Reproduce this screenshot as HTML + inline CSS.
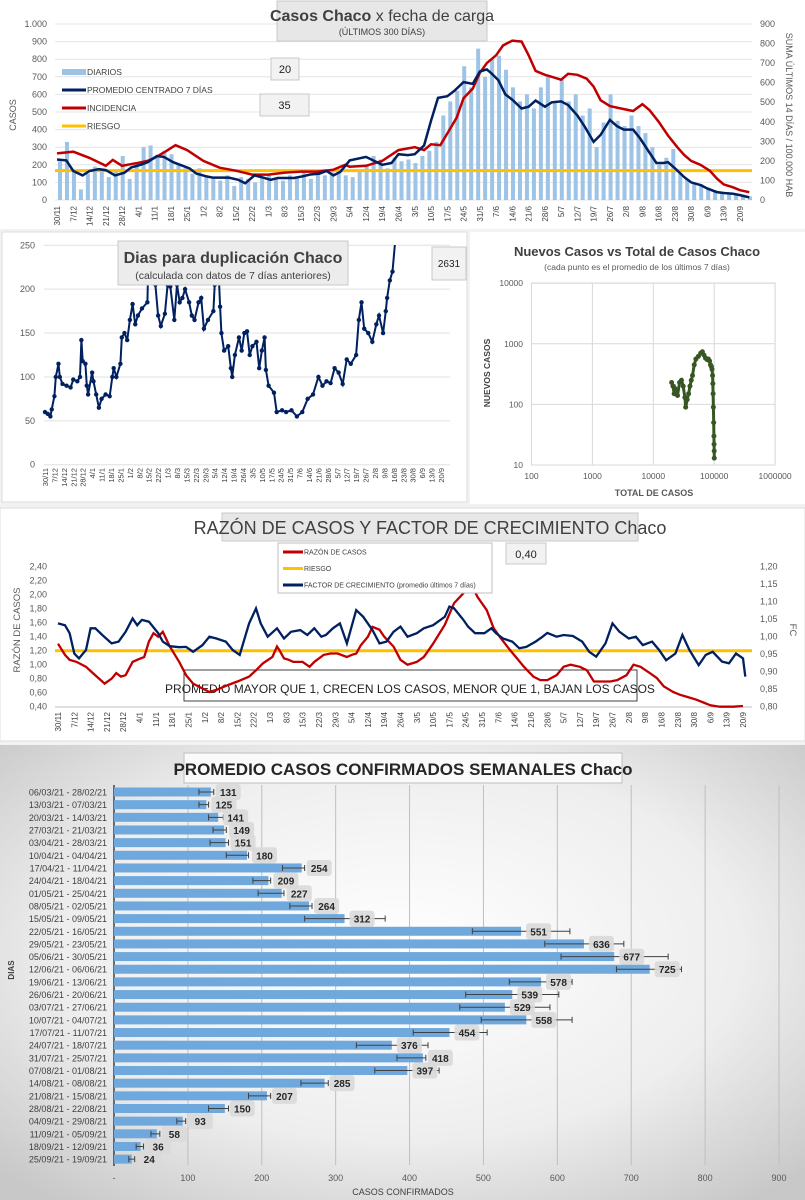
<!DOCTYPE html>
<html><head><meta charset="utf-8">
<style>
body{margin:0;background:#fff;}
svg{display:block;font-family:"Liberation Sans",sans-serif;}
.n{font-family:"Liberation Sans Narrow","Liberation Sans",sans-serif;}
</style></head>
<body>
<svg id="s" width="805" height="1200" viewBox="0 0 805 1200" xmlns="http://www.w3.org/2000/svg">
<defs>
<radialGradient id="bg4" cx="50%" cy="45%" r="70%">
<stop offset="0" stop-color="#ffffff"/><stop offset="0.6" stop-color="#eeeeee"/><stop offset="1" stop-color="#c8c8c8"/>
</radialGradient>
</defs>
<rect x="0" y="0" width="805" height="1200" fill="#f2f2f2"/>
<rect x="0" y="0" width="805" height="229" fill="#fff"/>
<rect x="2" y="232" width="465" height="270" fill="#fff" stroke="#ddd"/>
<rect x="470" y="232" width="335" height="272" fill="#fff"/>
<rect x="0" y="508" width="805" height="233" fill="#fff" stroke="#ddd"/>
<rect x="0" y="745" width="805" height="455" fill="url(#bg4)"/>
<g id="g1"></g><g id="g2"></g><g id="g3"></g><g id="g4"></g><g id="g5"></g>
</svg>
<script>
// ---------- shared date ticks ----------
const dateTicks=["30/11","7/12","14/12","21/12","28/12","4/1","11/1","18/1","25/1","1/2","8/2","15/2","22/2","1/3","8/3","15/3","22/3","29/3","5/4","12/4","19/4","26/4","3/5","10/5","17/5","24/5","31/5","7/6","14/6","21/6","28/6","5/7","12/7","19/7","26/7","2/8","9/8","16/8","23/8","30/8","6/9","13/9","20/9"];
// ---------- chart 1 data ----------
const dailyVals=[220,330,170,60,150,190,170,130,160,250,120,210,300,310,250,280,260,200,180,150,180,140,120,110,140,80,130,120,100,130,150,120,110,140,130,160,120,150,140,170,160,140,130,170,200,250,230,180,240,220,230,210,250,280,330,480,560,620,760,640,860,700,800,820,740,640,560,600,520,640,700,560,690,560,600,480,520,300,440,600,450,420,480,420,380,300,200,240,290,150,120,100,90,70,55,45,40,35,30,20];
const avgDays=[0,4,7,11,14,18,21,25,29,32,36,39,43,46,50,53,57,60,64,67,71,74,78,81,85,88,92,95,99,102,106,109,113,116,119,122,126,133,140,144,147,151,154,158,161,164,168,171,175,179,182,185,187,190,193,196,200,203,206,210,213,217,220,224,227,231,234,238,241,244,248,251,255,258,261,263,266,270,273,277,280,284,287,291,294,298];
const avgVals=[230,225,165,140,165,175,170,140,155,185,200,215,250,245,215,200,180,150,135,127,127,127,115,95,140,130,115,125,125,125,135,145,150,165,140,160,225,245,200,210,260,255,260,310,450,580,590,620,670,660,730,742,720,680,600,570,520,530,565,530,555,560,540,480,420,330,370,455,420,400,400,350,270,210,210,215,180,130,100,85,65,45,40,35,28,15];
const incDays=[0,7,14,21,24,28,35,39,42,47,51,56,63,70,77,84,91,98,105,112,119,124,126,133,140,147,154,158,161,165,168,172,175,179,182,185,189,192,196,200,203,206,210,213,217,220,224,228,231,234,238,242,248,252,255,259,263,267,270,273,277,281,284,287,291,294,298];
const incVals=[238,247,215,175,205,175,190,200,215,250,280,255,200,165,150,130,130,140,145,145,155,180,170,175,200,255,270,255,285,280,340,420,520,570,650,700,740,790,815,810,740,660,640,630,615,645,640,620,580,510,480,470,455,490,460,400,330,270,230,200,180,150,110,80,65,50,40,35];
const riesgo1=150;
const yTicksL1=[0,100,200,300,400,500,600,700,800,900,1000];
const yTickLab1=["0","100","200","300","400","500","600","700","800","900","1.000"];
const yTicksR1=[0,100,200,300,400,500,600,700,800,900];
// ---------- chart 2 data ----------
const dupDays=[0,2,4,5,7,8,10,11,13,16,19,21,24,26,27,28,30,31,32,35,36,38,40,42,45,48,50,51,53,56,57,59,61,63,65,67,69,72,76,77,80,82,84,86,89,91,93,96,98,100,102,104,107,109,111,114,116,118,121,125,126,129,130,131,133,136,138,139,141,144,146,148,150,152,154,157,159,161,163,164,166,170,172,176,179,183,187,191,195,199,203,206,209,212,215,218,221,224,227,231,233,235,237,240,243,246,248,251,253,254,256,258,260];
const dupVals=[60,58,55,63,78,100,115,100,92,90,88,97,95,100,142,118,115,90,80,105,95,80,65,75,80,78,100,110,100,115,145,150,142,165,183,160,170,178,185,250,240,205,170,158,172,205,203,165,205,185,190,200,185,170,165,185,190,155,165,175,205,215,180,150,130,135,110,100,125,145,130,150,152,125,135,140,110,130,145,108,90,82,60,62,60,62,55,60,75,80,100,90,95,93,110,105,92,120,115,125,165,185,155,150,140,160,170,150,175,190,210,220,255];
const dupTicks=[0,50,100,150,200,250];
// ---------- chart 3 data (scatter) ----------
const totalCasos=[20000,21000,22000,23000,25000,27000,29000,31000,33000,34000,36000,38000,40000,42000,44000,47000,50000,55000,60000,64000,68000,72000,76000,80000,84000,87000,90000,92000,94000,95000,96000,97000,98000,99000,99500,100000,100300];
const nuevosCasos=[230,200,150,180,140,230,250,200,130,90,120,150,200,250,300,450,560,620,700,740,650,580,550,560,520,450,420,380,300,220,150,90,50,30,22,17,13];
// ---------- chart 4 data ----------
const razDays=[0,3,5,8,12,15,18,20,23,25,27,29,32,34,37,39,41,43,45,48,52,55,58,62,65,68,73,77,82,85,88,92,94,95,97,99,101,105,108,110,114,117,120,124,126,128,130,133,135,138,140,144,147,150,154,157,161,166,170,174,176,178,180,184,187,190,194,197,200,204,207,210,214,217,220,224,227,230,234,237,240,244,247,250,254,257,260,264,267,270,274,277,280,284,290,294];
const razVals=[1.30,1.14,1.07,1.04,0.97,0.88,0.79,0.73,0.80,0.88,0.83,0.85,1.04,1.07,1.11,1.33,1.45,1.40,1.47,1.26,1.04,0.85,0.73,0.66,0.61,0.64,0.71,0.76,0.83,0.92,1.02,1.11,1.26,1.21,1.09,1.07,1.04,1.04,0.97,1.04,1.14,1.16,1.16,1.11,1.14,1.16,1.28,1.40,1.54,1.50,1.40,1.26,1.07,1.00,1.04,1.11,1.30,1.57,1.88,2.02,2.26,2.11,1.97,1.78,1.52,1.38,1.21,1.09,0.97,0.83,0.78,0.78,0.85,0.97,1.00,0.97,0.92,0.76,0.76,0.76,0.78,0.85,1.00,0.97,0.88,0.81,0.69,0.61,0.57,0.54,0.50,0.46,0.42,0.40,0.40,0.41];
const fcDays=[0,3,5,7,9,12,14,16,19,23,26,29,32,34,36,39,43,45,48,52,55,58,62,65,68,72,75,78,82,85,87,90,94,97,100,104,107,110,113,115,118,121,124,128,131,135,138,141,144,147,150,154,157,161,166,168,170,174,176,179,183,186,188,191,195,198,201,205,208,210,214,217,221,225,228,231,235,238,241,245,248,251,255,258,261,265,268,271,275,278,281,285,288,291,294,295];
const fcVals=[1.038,1.033,1.010,0.952,0.938,0.962,1.024,1.024,1.005,0.981,0.986,1.014,1.052,1.033,1.048,1.043,1.010,0.986,0.973,0.970,0.971,0.957,0.976,1.000,0.995,0.986,0.962,0.948,1.038,1.081,1.038,1.000,1.024,0.995,1.014,1.019,1.005,1.024,1.000,1.005,1.024,1.038,0.981,1.076,1.057,1.019,0.981,0.986,1.014,1.029,1.000,1.010,1.024,1.033,1.057,1.086,1.081,1.048,1.029,1.010,1.010,1.024,1.010,0.995,0.986,0.967,0.971,0.986,1.000,1.011,1.000,1.005,1.002,0.986,0.957,0.943,0.981,1.038,1.014,0.995,1.000,0.976,0.986,0.962,0.933,0.952,1.005,0.962,0.919,0.948,0.957,0.929,0.924,0.952,0.938,0.886];
const riesgo3=1.20;
const razTicks=[0.4,0.6,0.8,1.0,1.2,1.4,1.6,1.8,2.0,2.2,2.4];
const fcTicks=[0.80,0.85,0.90,0.95,1.00,1.05,1.10,1.15,1.20];
// ---------- chart 5 data ----------
const semanas=["06/03/21 - 28/02/21","13/03/21 - 07/03/21","20/03/21 - 14/03/21","27/03/21 - 21/03/21","03/04/21 - 28/03/21","10/04/21 - 04/04/21","17/04/21 - 11/04/21","24/04/21 - 18/04/21","01/05/21 - 25/04/21","08/05/21 - 02/05/21","15/05/21 - 09/05/21","22/05/21 - 16/05/21","29/05/21 - 23/05/21","05/06/21 - 30/05/21","12/06/21 - 06/06/21","19/06/21 - 13/06/21","26/06/21 - 20/06/21","03/07/21 - 27/06/21","10/07/21 - 04/07/21","17/07/21 - 11/07/21","24/07/21 - 18/07/21","31/07/21 - 25/07/21","07/08/21 - 01/08/21","14/08/21 - 08/08/21","21/08/21 - 15/08/21","28/08/21 - 22/08/21","04/09/21 - 29/08/21","11/09/21 - 05/09/21","18/09/21 - 12/09/21","25/09/21 - 19/09/21"];
const semVals=[131,125,141,149,151,180,254,209,227,264,312,551,636,677,725,578,539,529,558,454,376,418,397,285,207,150,93,58,36,24];
const errLow=[115,115,128,134,130,152,228,188,195,238,258,485,583,605,680,535,476,468,497,405,328,383,353,253,182,128,85,50,30,20];
const errHigh=[135,128,148,152,155,182,258,212,230,268,367,617,690,750,768,620,602,590,620,505,425,422,440,290,212,155,97,62,40,28];
const semTicks=[0,100,200,300,400,500,600,700,800,900];

// ---------- helpers ----------
const NS="http://www.w3.org/2000/svg";
function mk(parent,tag,attrs,txt){const e=document.createElementNS(NS,tag);for(const k in attrs)e.setAttribute(k,attrs[k]);if(txt!==undefined)e.textContent=txt;parent.appendChild(e);return e;}
function pts(xs,ys,fx,fy){return xs.map((d,i)=>fx(d).toFixed(1)+","+fy(ys[i]).toFixed(1)).join(" ");}
function dateLabels(g,fx,y0,size){dateTicks.forEach((t,i)=>{const x=fx(i*7);const e=mk(g,"text",{x:x+3,y:y0,transform:`rotate(-90 ${x+3} ${y0})`,"text-anchor":"end","font-size":size,fill:"#404040"},t);

});}

// ---------- chart 1 ----------
(function(){const g=document.getElementById("g1");
const x=d=>57+d*683/294, yL=v=>200-v*0.176, yR=v=>200-v*0.1956;
yTicksL1.forEach((v,i)=>{const l=mk(g,"line",{x1:55,x2:752,y1:yL(v),y2:yL(v),stroke:"#e4e4e4","stroke-width":1});


const t=mk(g,"text",{x:47,y:yL(v)+3,"text-anchor":"end","font-size":9,fill:"#595959"},yTickLab1[i]);

});
yTicksR1.forEach(v=>{const t=mk(g,"text",{x:760,y:yR(v)+3,"font-size":9,fill:"#595959"},String(v));

});
dailyVals.forEach((v,i)=>{const b=mk(g,"rect",{x:x(i*3)+1,y:yL(v),width:4,height:200-yL(v),fill:"#9dc3e6"});

});
const rl=mk(g,"line",{x1:55,x2:752,y1:yR(riesgo1),y2:yR(riesgo1),stroke:"#ffc000","stroke-width":3});


const ri=mk(g,"polyline",{points:pts(incDays,incVals,x,yR),fill:"none",stroke:"#c00000","stroke-width":2.5});


const av=mk(g,"polyline",{points:pts(avgDays,avgVals,x,yL),fill:"none",stroke:"#002060","stroke-width":2.5});


dateLabels(g,x,206,8);
const yt=mk(g,"text",{x:16,y:115,transform:"rotate(-90 16 115)","text-anchor":"middle","font-size":9,fill:"#595959"},"CASOS");


const rt=mk(g,"text",{x:786,y:115,transform:"rotate(90 786 115)","text-anchor":"middle","font-size":9,fill:"#595959"},"SUMA  ÚLTIMOS 14 DÍAS / 100.000 HAB");


const tb=mk(g,"rect",{x:277,y:1,width:210,height:40,fill:"#e7e7e7",stroke:"#c8c8c8"});


const tt=mk(g,"text",{x:382,y:21,"text-anchor":"middle","font-size":16,fill:"#404040"});


mk(tt,"tspan",{"font-weight":"bold"},"Casos Chaco");mk(tt,"tspan",{}," x fecha de carga");
const st=mk(g,"text",{x:382,y:35,"text-anchor":"middle","font-size":9,fill:"#404040"},"(ÚLTIMOS 300 DÍAS)");


const leg=[["DIARIOS","#9cc2e5",6],["PROMEDIO CENTRADO 7 DÍAS","#002060",3],["INCIDENCIA","#c00000",3],["RIESGO","#ffc000",3]];
leg.forEach((l,i)=>{const yy=72+i*18;const s=mk(g,"rect",{x:62,y:yy-l[2]/2,width:24,height:l[2],fill:l[1]});


const t=mk(g,"text",{x:87,y:yy+3,"font-size":8.5,fill:"#404040"},l[0]);

});
[[271,58,28,"20"],[260,94,49,"35"]].forEach(b=>{const r=mk(g,"rect",{x:b[0],y:b[1],width:b[2],height:22,fill:"#f2f2f2",stroke:"#c8c8c8"});


const t=mk(g,"text",{x:b[0]+b[2]/2,y:b[1]+15,"text-anchor":"middle","font-size":11,fill:"#222"},b[3]);

});
})();

// ---------- chart 2 ----------
(function(){const g=document.getElementById("g2");
const x=d=>45+d*396/294, y=v=>464.7-v*0.8776;
dupTicks.forEach(v=>{const l=mk(g,"line",{x1:44,x2:450,y1:y(v),y2:y(v),stroke:"#e0e0e0"});


const t=mk(g,"text",{x:35,y:y(v)+3,"text-anchor":"end","font-size":9,fill:"#595959"},String(v));

});
mk(g,"clipPath",{id:"c2"});mk(document.getElementById("c2"),"rect",{x:40,y:245,width:420,height:225});
const pl=mk(g,"polyline",{points:pts(dupDays,dupVals,x,y),fill:"none",stroke:"#002060","stroke-width":2,"clip-path":"url(#c2)"});


dupDays.forEach((d,i)=>{if(dupVals[i]>250)return;const c=mk(g,"circle",{cx:x(d),cy:y(dupVals[i]),r:2.2,fill:"#002060"});

});
dateLabels(g,x,468,7.5);
const tb=mk(g,"rect",{x:118,y:241,width:230,height:44,fill:"#ececec",stroke:"#c8c8c8"});


const t1=mk(g,"text",{x:233,y:263,"text-anchor":"middle","font-size":16,"font-weight":"bold",fill:"#404040"},"Dias para duplicación Chaco");


const t2=mk(g,"text",{x:233,y:279,"text-anchor":"middle","font-size":10.5,fill:"#404040"},"(calculada con datos de 7 días anteriores)");


const vb=mk(g,"rect",{x:432,y:247,width:34,height:33,fill:"#f2f2f2",stroke:"#c8c8c8"});


const vt=mk(g,"text",{x:449,y:267,"text-anchor":"middle","font-size":10,fill:"#222"},"2631");


})();

// ---------- chart 3 scatter ----------
(function(){const g=document.getElementById("g3");
const x=v=>531.5+(Math.log10(v)-2)*60.9, y=v=>465-(Math.log10(v)-1)*60.6;
const fr=mk(g,"rect",{x:531.5,y:283,width:243.6,height:182,fill:"none",stroke:"#d9d9d9"});


[100,1000,10000,100000,1000000].forEach(v=>{const l=mk(g,"line",{x1:x(v),x2:x(v),y1:283,y2:465,stroke:"#d9d9d9"});


const t=mk(g,"text",{x:x(v),y:479,"text-anchor":"middle","font-size":8.5,fill:"#595959"},String(v));

});
[10,100,1000,10000].forEach(v=>{const l=mk(g,"line",{x1:531.5,x2:775,y1:y(v),y2:y(v),stroke:"#d9d9d9"});


const t=mk(g,"text",{x:523,y:y(v)+3,"text-anchor":"end","font-size":8.5,fill:"#595959"},String(v));

});
const pl=mk(g,"polyline",{points:pts(totalCasos,nuevosCasos,x,y),fill:"none",stroke:"#375623","stroke-width":3});


totalCasos.forEach((v,i)=>{const c=mk(g,"circle",{cx:x(v),cy:y(nuevosCasos[i]),r:2.5,fill:"#375623"});

});
const t1=mk(g,"text",{x:637,y:256,"text-anchor":"middle","font-size":13,"font-weight":"bold",fill:"#404040"},"Nuevos Casos vs Total de Casos Chaco");


const t2=mk(g,"text",{x:637,y:270,"text-anchor":"middle","font-size":8.5,fill:"#595959"},"(cada punto es el promedio de los últimos 7 días)");


const yt=mk(g,"text",{x:490,y:373,transform:"rotate(-90 490 373)","text-anchor":"middle","font-size":8.5,"font-weight":"bold",fill:"#404040"},"NUEVOS  CASOS");


const xt=mk(g,"text",{x:654,y:496,"text-anchor":"middle","font-size":9,"font-weight":"bold",fill:"#595959"},"TOTAL DE CASOS");


})();

// ---------- chart 4 ----------
(function(){const g=document.getElementById("g4");
const x=d=>58+d*685/294, yL=v=>706.7-(v-0.4)*70, yR=v=>706.7-(v-0.8)*350;
razTicks.forEach(v=>{const t=mk(g,"text",{x:47,y:yL(v)+3,"text-anchor":"end","font-size":9,fill:"#595959"},v.toFixed(2).replace(".",","));

});
fcTicks.forEach(v=>{const t=mk(g,"text",{x:760,y:yR(v)+3,"font-size":9,fill:"#595959"},v.toFixed(2).replace(".",","));

});
const ax=mk(g,"line",{x1:55,x2:752,y1:707,y2:707,stroke:"#bfbfbf"});


const nb=mk(g,"rect",{x:184,y:670,width:453,height:31,fill:"#fff",stroke:"#404040"});


const nt=mk(g,"text",{x:410,y:693,"text-anchor":"middle","font-size":12,fill:"#222"},"PROMEDIO MAYOR QUE 1, CRECEN LOS CASOS, MENOR QUE 1, BAJAN LOS CASOS");


const rl=mk(g,"line",{x1:55,x2:752,y1:yL(riesgo3),y2:yL(riesgo3),stroke:"#ffc000","stroke-width":3});


const rz=mk(g,"polyline",{points:pts(razDays,razVals,x,yL),fill:"none",stroke:"#c00000","stroke-width":2.3});


const fc=mk(g,"polyline",{points:pts(fcDays,fcVals,x,yR),fill:"none",stroke:"#002060","stroke-width":2.3});


dateLabels(g,x,712,8);
const tb=mk(g,"rect",{x:222,y:513,width:416,height:28,fill:"#e7e7e7",stroke:"#c8c8c8"});


const tt=mk(g,"text",{x:430,y:534,"text-anchor":"middle","font-size":18,fill:"#404040"},"RAZÓN DE CASOS Y FACTOR DE CRECIMIENTO Chaco");


const lb=mk(g,"rect",{x:278,y:543,width:214,height:50,fill:"#fff",stroke:"#bfbfbf"});


[["RAZÓN DE CASOS","#c00000"],["RIESGO","#ffc000"],["FACTOR DE CRECIMIENTO (promedio últimos 7 días)","#002060"]].forEach((l,i)=>{const yy=552+i*16.5;
const s=mk(g,"rect",{x:283,y:yy-1.5,width:20,height:3,fill:l[1]});


const t=mk(g,"text",{x:304,y:yy+2.5,"font-size":7,fill:"#404040"},l[0]);

});
const vb=mk(g,"rect",{x:506,y:543,width:40,height:21,fill:"#f2f2f2",stroke:"#c8c8c8"});


const vt=mk(g,"text",{x:526,y:558,"text-anchor":"middle","font-size":11,fill:"#222"},"0,40");


const y1=mk(g,"text",{x:20,y:630,transform:"rotate(-90 20 630)","text-anchor":"middle","font-size":9.5,fill:"#595959"},"RAZÓN  DE  CASOS");


const y2=mk(g,"text",{x:790,y:630,transform:"rotate(90 790 630)","text-anchor":"middle","font-size":9.5,fill:"#595959"},"FC");


})();

// ---------- chart 5 ----------
(function(){const g=document.getElementById("g5");
const x=v=>114+v*665/900, y=i=>792+i*12.66;
semTicks.forEach(v=>{if(v>0){const l=mk(g,"line",{x1:x(v),x2:x(v),y1:785,y2:1165,stroke:"#bfbfbf"});

}
const t=mk(g,"text",{x:x(v),y:1181,"text-anchor":"middle","font-size":9,fill:"#595959",class:"n"},v===0?"-":String(v));

});
const ax=mk(g,"line",{x1:114,x2:114,y1:785,y2:1166,stroke:"#404040","stroke-width":1.5});


semVals.forEach((v,i)=>{const yy=y(i);
const b=mk(g,"rect",{x:114,y:yy-4.5,width:x(v)-114,height:9,fill:"#6fa8dc"});


const eb=mk(g,"path",{d:`M${x(errLow[i])},${yy-3}V${yy+3}M${x(errLow[i])},${yy}H${x(errHigh[i])}M${x(errHigh[i])},${yy-3}V${yy+3}`,stroke:"#404040","stroke-width":1,fill:"none"});


const bx=x(v)+5;
const r=mk(g,"rect",{x:bx,y:yy-8,width:25,height:16,rx:3,fill:"#d9d9d9",opacity:0.9});


const t=mk(g,"text",{x:bx+12.5,y:yy+4,"text-anchor":"middle","font-size":10,"font-weight":"bold",fill:"#262626",class:"n"},String(v));


const c=mk(g,"text",{x:107,y:yy+3.5,"text-anchor":"end","font-size":9,fill:"#404040",class:"n"},semanas[i]);

});
const tb=mk(g,"rect",{x:184,y:753,width:438,height:30,fill:"#fafafa",stroke:"#bfbfbf"});


const tt=mk(g,"text",{x:403,y:775,"text-anchor":"middle","font-size":17,"font-weight":"bold",fill:"#262626",class:"n"},"PROMEDIO CASOS CONFIRMADOS SEMANALES Chaco");


const xt=mk(g,"text",{x:403,y:1195,"text-anchor":"middle","font-size":9,fill:"#404040",class:"n"},"CASOS CONFIRMADOS");


const yt=mk(g,"text",{x:14,y:970,transform:"rotate(-90 14 970)","text-anchor":"middle","font-size":8,"font-weight":"bold",fill:"#404040"},"DIAS");


})();
</script>
</body></html>
